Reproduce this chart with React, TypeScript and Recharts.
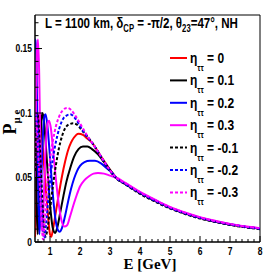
import React from 'react';
import { LineChart, Line, XAxis, YAxis, ReferenceArea } from 'recharts';

// ---- data (E [GeV], P_mue) ----
const etaZero: number[][] = [
  [0.5, 0.004], [0.53, 0.02], [0.57, 0.06], [0.61, 0.09], [0.65, 0.1], [0.7, 0.093], [0.75, 0.077],
  [0.8, 0.06], [0.85, 0.045], [0.9, 0.03], [0.95, 0.016], [1.0, 0.006], [1.04, 0.004], [1.1, 0.01],
  [1.2, 0.024], [1.3, 0.038], [1.4, 0.051], [1.5, 0.062], [1.6, 0.071], [1.7, 0.077], [1.8, 0.081],
  [1.95, 0.084], [2.1, 0.083], [2.25, 0.08], [2.4, 0.077], [2.6, 0.07], [2.8, 0.063], [3.0, 0.056],
  [3.2, 0.05], [3.5, 0.0452], [4.0, 0.038], [4.5, 0.032], [5.0, 0.0265], [5.5, 0.0222], [6.0, 0.0187],
  [6.5, 0.0159], [7.0, 0.0136], [7.5, 0.0118], [8.0, 0.0103],
];
const etaP01: number[][] = [
  [0.5, 0.11], [0.53, 0.07], [0.56, 0.025], [0.59, 0.006], [0.63, 0.03], [0.67, 0.07], [0.71, 0.093],
  [0.75, 0.1], [0.8, 0.094], [0.87, 0.072], [0.95, 0.045], [1.03, 0.022], [1.1, 0.01], [1.17, 0.007],
  [1.25, 0.012], [1.35, 0.024], [1.45, 0.036], [1.55, 0.047], [1.67, 0.057], [1.8, 0.066], [1.95, 0.072],
  [2.1, 0.074], [2.25, 0.074], [2.4, 0.072], [2.6, 0.068], [2.8, 0.062], [3.0, 0.056], [3.2, 0.05],
  [3.5, 0.0452], [4.0, 0.038], [4.5, 0.032], [5.0, 0.0265], [5.5, 0.0222], [6.0, 0.0187], [6.5, 0.0159],
  [7.0, 0.0136], [7.5, 0.0118], [8.0, 0.0103],
];
const etaP02: number[][] = [
  [0.5, 0.15], [0.52, 0.157], [0.55, 0.14], [0.58, 0.09], [0.61, 0.04], [0.645, 0.006], [0.68, 0.02],
  [0.72, 0.055], [0.77, 0.085], [0.81, 0.097], [0.85, 0.099], [0.9, 0.093], [0.97, 0.075], [1.05, 0.05],
  [1.13, 0.028], [1.2, 0.015], [1.27, 0.009], [1.32, 0.008], [1.4, 0.011], [1.5, 0.02], [1.6, 0.031],
  [1.7, 0.041], [1.8, 0.049], [1.9, 0.055], [2.0, 0.059], [2.15, 0.062], [2.33, 0.063], [2.5, 0.063],
  [2.7, 0.061], [2.9, 0.057], [3.05, 0.054], [3.2, 0.05], [3.5, 0.0454], [4.0, 0.0382], [4.5, 0.0322],
  [5.0, 0.0267], [5.5, 0.0224], [6.0, 0.0189], [6.5, 0.016], [7.0, 0.0137], [7.5, 0.0119], [8.0, 0.0104],
];
const etaP03: number[][] = [
  [0.5, 0.05], [0.53, 0.1], [0.56, 0.145], [0.6, 0.157], [0.64, 0.13], [0.68, 0.07], [0.71, 0.025],
  [0.74, 0.008], [0.78, 0.025], [0.83, 0.06], [0.88, 0.083], [0.93, 0.093], [0.97, 0.094], [1.03, 0.088],
  [1.1, 0.072], [1.2, 0.048], [1.3, 0.028], [1.38, 0.017], [1.48, 0.012], [1.57, 0.013], [1.67, 0.02],
  [1.8, 0.03], [1.9, 0.037], [2.0, 0.043], [2.15, 0.048], [2.3, 0.051], [2.45, 0.053], [2.6, 0.0535],
  [2.8, 0.053], [3.0, 0.0515], [3.2, 0.05], [3.5, 0.046], [4.0, 0.0388], [4.5, 0.0328], [5.0, 0.0272],
  [5.5, 0.0229], [6.0, 0.0193], [6.5, 0.0164], [7.0, 0.014], [7.5, 0.0122], [8.0, 0.0107],
];
const etaM01: number[][] = [
  [0.5, 0.055], [0.53, 0.08], [0.57, 0.1], [0.61, 0.095], [0.66, 0.075], [0.72, 0.045], [0.78, 0.018],
  [0.85, 0.004], [0.9, 0.008], [1.0, 0.025], [1.1, 0.044], [1.2, 0.06], [1.3, 0.073], [1.4, 0.082],
  [1.5, 0.088], [1.62, 0.091], [1.77, 0.092], [1.9, 0.091], [2.05, 0.087], [2.2, 0.083], [2.4, 0.077],
  [2.6, 0.07], [2.8, 0.062], [3.0, 0.055], [3.2, 0.0495], [3.5, 0.0448], [4.0, 0.0373], [4.5, 0.0313],
  [5.0, 0.026], [5.5, 0.0217], [6.0, 0.0182], [6.5, 0.0155], [7.0, 0.0132], [7.5, 0.0114], [8.0, 0.0099],
];
const etaM02: number[][] = [
  [0.5, 0.085], [0.54, 0.1], [0.58, 0.093], [0.63, 0.07], [0.69, 0.04], [0.75, 0.014], [0.81, 0.003],
  [0.87, 0.014], [0.95, 0.035], [1.05, 0.057], [1.15, 0.072], [1.25, 0.083], [1.35, 0.091], [1.45, 0.096],
  [1.55, 0.098], [1.67, 0.099], [1.8, 0.097], [1.95, 0.092], [2.1, 0.086], [2.25, 0.081], [2.4, 0.077],
  [2.6, 0.07], [2.8, 0.0625], [3.0, 0.0555], [3.2, 0.0498], [3.5, 0.0452], [4.0, 0.038], [4.5, 0.032],
  [5.0, 0.0265], [5.5, 0.0222], [6.0, 0.0187], [6.5, 0.0159], [7.0, 0.0136], [7.5, 0.0118], [8.0, 0.0103],
];
const etaM03: number[][] = [
  [0.5, 0.1], [0.53, 0.098], [0.58, 0.082], [0.64, 0.053], [0.7, 0.025], [0.77, 0.002], [0.83, 0.018],
  [0.9, 0.042], [1.0, 0.064], [1.1, 0.079], [1.2, 0.09], [1.3, 0.097], [1.42, 0.102], [1.57, 0.104],
  [1.72, 0.102], [1.87, 0.097], [2.0, 0.092], [2.2, 0.084], [2.4, 0.077], [2.6, 0.07], [2.8, 0.0625],
  [3.0, 0.0555], [3.2, 0.0502], [3.5, 0.0458], [4.0, 0.0386], [4.5, 0.0326], [5.0, 0.027], [5.5, 0.0227],
  [6.0, 0.0191], [6.5, 0.0162], [7.0, 0.0139], [7.5, 0.012], [8.0, 0.0106],
];

const etaLabels = ['0', '0.1', '0.2', '0.3', '-0.1', '-0.2', '-0.3'];
const xMajorTicks = [1, 2, 3, 4, 5, 6, 7, 8];
const yMajorTicks = [0, 0.05, 0.1, 0.15];
const xDomain = [0.5, 8];
const yDomain = [0, 0.176];

// ---- styles ----
const series = [
  { data: etaZero, color: '#ff0000', dash: undefined as string | undefined },
  { data: etaP01, color: '#000000', dash: undefined },
  { data: etaP02, color: '#0000ff', dash: undefined },
  { data: etaP03, color: '#ff00ff', dash: undefined },
  { data: etaM01, color: '#000000', dash: '3 2' },
  { data: etaM02, color: '#0000ff', dash: '3 2' },
  { data: etaM03, color: '#ff00ff', dash: '3 2' },
];

const xMinorTicks: number[] = [];
for (let i = 3; i <= 40; i++) {
  const v = Math.round(i * 0.2 * 100) / 100;
  if (Math.abs(v - Math.round(v)) > 1e-6) xMinorTicks.push(v);
}
const yMinorTicks: number[] = [];
for (let i = 1; i <= 17; i++) {
  if (i % 5 !== 0) yMinorTicks.push(i / 100);
}
const xTicks = [...xMinorTicks, ...xMajorTicks].sort((a, b) => a - b);
const yTicks = [...yMinorTicks, ...yMajorTicks].sort((a, b) => a - b);

const SANS = '"Liberation Sans", Arial, sans-serif';
const SERIF = '"Liberation Serif", "Times New Roman", serif';

const isIn = (arr: number[], v: number) => arr.some((t) => Math.abs(t - v) < 1e-6);

const renderXTick = (props: any) => {
  const { x, y, payload } = props;
  const major = isIn(xMajorTicks, payload.value);
  return (
    <g key={`xt-${payload.value}`}>
      <line x1={x} y1={y} x2={x} y2={y - (major ? 6 : 3)} stroke="#000" strokeWidth={1} />
      {major && (
        <g transform={`translate(${x},${y + 13}) scale(0.85,1)`}>
          <text x={0} y={0} textAnchor="middle" fontSize={10} fontWeight="bold" fontFamily={SANS} fill="#000">
            {String(payload.value)}
          </text>
        </g>
      )}
    </g>
  );
};

const renderYTick = (props: any) => {
  const { x, y, payload } = props;
  const major = isIn(yMajorTicks, payload.value);
  return (
    <g key={`yt-${payload.value}`}>
      <line x1={x} y1={y} x2={x + (major ? 7 : 3.5)} y2={y} stroke="#000" strokeWidth={1} />
      {major && (
        <g transform={`translate(${x - 3},${y + 3.5}) scale(0.85,1)`}>
          <text x={0} y={0} textAnchor="end" fontSize={10} fontWeight="bold" fontFamily={SANS} fill="#000">
            {String(payload.value)}
          </text>
        </g>
      )}
    </g>
  );
};

export default function App() {
  const legendTop = 58;
  const legendStep = 22.4;
  return (
    <div style={{ position: 'absolute', left: 0, top: 0, width: 266, height: 273, background: '#fff' }}>
      <LineChart width={266} height={273} margin={{ top: 15, right: 6, bottom: 0, left: 0 }}>
        <XAxis
          type="number"
          dataKey="e"
          domain={xDomain}
          allowDataOverflow
          ticks={xTicks}
          interval={0}
          tick={renderXTick}
          tickLine={false}
          tickSize={0}
          tickMargin={0}
          height={31}
          axisLine={{ stroke: '#000' }}
        />
        <YAxis
          type="number"
          dataKey="p"
          domain={yDomain}
          allowDataOverflow
          ticks={yTicks}
          interval={0}
          tick={renderYTick}
          tickLine={false}
          tickSize={0}
          tickMargin={0}
          width={35}
          axisLine={{ stroke: '#000' }}
        />
        <ReferenceArea x1={xDomain[0]} x2={xDomain[1]} y1={yDomain[0]} y2={yDomain[1]} fill="none" fillOpacity={0} stroke="#000" strokeWidth={1} ifOverflow="visible" />
        {series.map((s, i) => (
          <Line
            key={i}
            data={s.data.map(([e, p]) => ({ e, p }))}
            dataKey="p"
            type="monotone"
            stroke={s.color}
            strokeWidth={2}
            strokeDasharray={s.dash}
            dot={false}
            activeDot={false}
            isAnimationActive={false}
          />
        ))}
      </LineChart>
      <svg width={266} height={273} style={{ position: 'absolute', left: 0, top: 0, pointerEvents: 'none' }}>
        <g transform="translate(45,28) scale(0.77,1)">
          <text x={0} y={0} fontSize={15} fontWeight="bold" fontFamily={SANS} fill="#000">
            L = 1100 km, δ<tspan fontSize={10} dy={4}>CP</tspan>
            <tspan dy={-4}> = -π/2, θ</tspan>
            <tspan fontSize={10} dy={4}>23</tspan>
            <tspan dy={-4}>=47°, NH</tspan>
          </text>
        </g>
        {series.map((s, i) => {
          const ly = legendTop + i * legendStep;
          return (
            <g key={i}>
              <line x1={170} x2={187} y1={ly} y2={ly} stroke={s.color} strokeWidth={2} strokeDasharray={s.dash} />
              <g transform={`translate(190,${ly + 5}) scale(0.8,1)`}>
                <text x={0} y={0} fontSize={15} fontWeight="bold" fontFamily={SANS} fill="#000">
                  η<tspan fontSize={9} dy={8}>ττ</tspan>
                  <tspan dy={-8}> = {etaLabels[i]}</tspan>
                </text>
              </g>
            </g>
          );
        })}
        <text
          transform="translate(16,122) rotate(-90)"
          textAnchor="middle"
          fontSize={18}
          fontWeight="bold"
          fontFamily={SERIF}
          fill="#000"
        >
          P<tspan fontSize={11} dy={4}>μ e</tspan>
        </text>
        <text x={150} y={269} textAnchor="middle" fontSize={15} fontWeight="bold" fontFamily={SERIF} fill="#000">
          E [GeV]
        </text>
      </svg>
    </div>
  );
}
